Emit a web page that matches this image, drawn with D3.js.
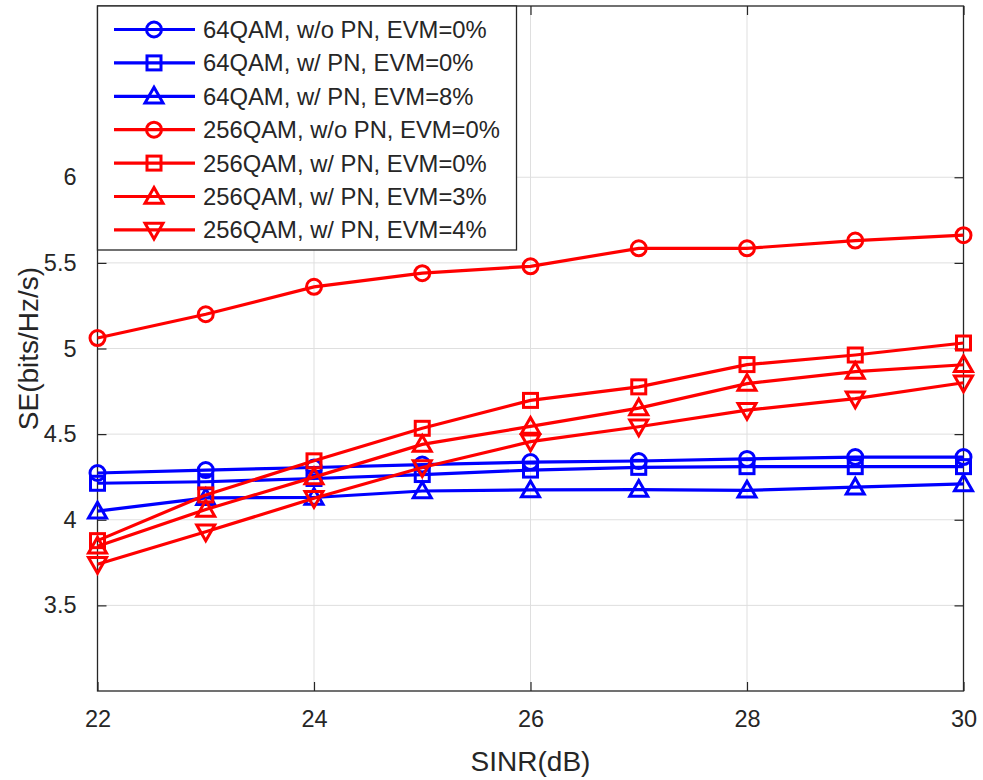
<!DOCTYPE html>
<html>
<head>
<meta charset="utf-8">
<script src="https://cdn.jsdelivr.net/npm/d3@7"></script>
<style>
  body { margin: 0; background: #fff; }
  svg text { font-family: "Liberation Sans", Arial, Helvetica, sans-serif; fill: #262626; }
</style>
</head>
<body>
<svg id="chart" width="983" height="780"></svg>
<script>
// ---- data ----
const sinr = [22, 23, 24, 25, 26, 27, 28, 29, 30];
const qam64_noPN_evm0 = [4.273, 4.290, 4.305, 4.322, 4.337, 4.343, 4.355, 4.366, 4.366];
const qam64_PN_evm0   = [4.213, 4.222, 4.241, 4.264, 4.290, 4.306, 4.310, 4.310, 4.310];
const qam64_PN_evm8   = [4.050, 4.128, 4.130, 4.168, 4.174, 4.176, 4.172, 4.190, 4.209];
const qam256_noPN_evm0 = [5.061, 5.200, 5.360, 5.440, 5.480, 5.585, 5.585, 5.630, 5.662];
const qam256_PN_evm0   = [3.878, 4.145, 4.344, 4.534, 4.697, 4.776, 4.906, 4.962, 5.032];
const qam256_PN_evm3   = [3.845, 4.060, 4.249, 4.440, 4.545, 4.652, 4.795, 4.865, 4.905];
const qam256_PN_evm4   = [3.740, 3.930, 4.125, 4.305, 4.456, 4.543, 4.640, 4.707, 4.800];
const seriesNames = [
  "64QAM, w/o PN, EVM=0%",
  "64QAM, w/ PN, EVM=0%",
  "64QAM, w/ PN, EVM=8%",
  "256QAM, w/o PN, EVM=0%",
  "256QAM, w/ PN, EVM=0%",
  "256QAM, w/ PN, EVM=3%",
  "256QAM, w/ PN, EVM=4%"
];
const seriesValues = [qam64_noPN_evm0, qam64_PN_evm0, qam64_PN_evm8, qam256_noPN_evm0, qam256_PN_evm0, qam256_PN_evm3, qam256_PN_evm4];
const seriesColors = ["#0000ff", "#0000ff", "#0000ff", "#ff0000", "#ff0000", "#ff0000", "#ff0000"];
const seriesMarkers = ["circle", "square", "triangleUp", "circle", "square", "triangleUp", "triangleDown"];
const xTicks = [22, 24, 26, 28, 30];
const yTicks = [3.5, 4, 4.5, 5, 5.5, 6];
const xLabel = "SINR(dB)";
const yLabel = "SE(bits/Hz/s)";

// ---- layout ----
const svg = d3.select("#chart");
const L = 97.5, R = 963.5, T = 6, B = 691;
const x = d3.scaleLinear().domain([22, 30]).range([L, R]);
const y = d3.scaleLinear().domain([3, 7]).range([B, T]);
const axisColor = "#262626";

// grid
const grid = svg.append("g");
grid.selectAll(".gx").data(xTicks).enter().append("line")
  .attr("x1", d => x(d)).attr("x2", d => x(d)).attr("y1", T).attr("y2", B)
  .attr("stroke", "#dfdfdf").attr("stroke-width", 1);
grid.selectAll(".gy").data(yTicks).enter().append("line")
  .attr("x1", L).attr("x2", R).attr("y1", d => y(d)).attr("y2", d => y(d))
  .attr("stroke", "#dfdfdf").attr("stroke-width", 1);

// axes (ticks inward)
const tickLen = 9;
function styleAxis(g) {
  g.select(".domain").remove();
  g.selectAll(".tick line").attr("stroke", axisColor).attr("stroke-width", 1.2);
  g.selectAll(".tick text").attr("font-size", "23.5px").attr("fill", axisColor)
    .style("font-family", '"Liberation Sans", Arial, sans-serif');
}
svg.append("g").attr("transform", `translate(0,${B})`)
  .call(d3.axisBottom(x).tickValues(xTicks).tickFormat(d3.format("d")).tickSizeInner(-tickLen).tickSizeOuter(0).tickPadding(19))
  .call(styleAxis);
svg.append("g").attr("transform", `translate(0,${T})`)
  .call(d3.axisTop(x).tickValues(xTicks).tickFormat("").tickSizeInner(-tickLen).tickSizeOuter(0))
  .call(styleAxis);
svg.append("g").attr("transform", `translate(${L},0)`)
  .call(d3.axisLeft(y).tickValues(yTicks).tickFormat(d => d).tickSizeInner(-tickLen).tickSizeOuter(0).tickPadding(21))
  .call(styleAxis);
svg.append("g").attr("transform", `translate(${R},0)`)
  .call(d3.axisRight(y).tickValues(yTicks).tickFormat("").tickSizeInner(-tickLen).tickSizeOuter(0))
  .call(styleAxis);

svg.append("rect").attr("x", L).attr("y", T).attr("width", R - L).attr("height", B - T)
  .attr("fill", "none").attr("stroke", axisColor).attr("stroke-width", 1.3);

// markers
function drawMarker(g, type, cx, cy, color) {
  if (type === "circle") {
    g.append("circle").attr("cx", cx).attr("cy", cy).attr("r", 7.5)
      .attr("fill", "none").attr("stroke", color).attr("stroke-width", 3);
  } else if (type === "square") {
    g.append("rect").attr("x", cx - 7).attr("y", cy - 7).attr("width", 14).attr("height", 14)
      .attr("fill", "none").attr("stroke", color).attr("stroke-width", 3);
  } else if (type === "triangleUp") {
    const h = 9;
    g.append("path").attr("d", `M${cx},${cy - h} L${cx + h},${cy + h * 0.75} L${cx - h},${cy + h * 0.75} Z`)
      .attr("fill", "none").attr("stroke", color).attr("stroke-width", 3).attr("stroke-linejoin", "miter");
  } else if (type === "triangleDown") {
    const h = 9;
    g.append("path").attr("d", `M${cx},${cy + h} L${cx + h},${cy - h * 0.75} L${cx - h},${cy - h * 0.75} Z`)
      .attr("fill", "none").attr("stroke", color).attr("stroke-width", 3).attr("stroke-linejoin", "miter");
  }
}

// series
const line = d3.line().x((d, i) => x(sinr[i])).y(d => y(d));
seriesValues.forEach((vals, k) => {
  const g = svg.append("g");
  g.append("path").datum(vals).attr("d", line)
    .attr("fill", "none").attr("stroke", seriesColors[k]).attr("stroke-width", 3.2);
  vals.forEach((v, i) => drawMarker(g, seriesMarkers[k], x(sinr[i]), y(v), seriesColors[k]));
});

// legend
const lg = svg.append("g");
lg.append("rect").attr("x", 97.5).attr("y", 6).attr("width", 419).attr("height", 244)
  .attr("fill", "#fff").attr("stroke", axisColor).attr("stroke-width", 1.3);
seriesNames.forEach((name, k) => {
  const cy = 29.5 + k * 33.4;
  lg.append("line").attr("x1", 114).attr("x2", 195).attr("y1", cy).attr("y2", cy)
    .attr("stroke", seriesColors[k]).attr("stroke-width", 3.2);
  drawMarker(lg, seriesMarkers[k], 154, cy, seriesColors[k]);
  lg.append("text").attr("x", 203).attr("y", cy).attr("dy", "0.36em")
    .attr("font-size", "23.8px").attr("fill", "#000").text(name);
});

// axis labels
svg.append("text").attr("x", (L + R) / 2).attr("y", 771).attr("text-anchor", "middle")
  .attr("font-size", "28px").attr("fill", axisColor).text(xLabel);
svg.append("text").attr("transform", `translate(38,${(T + B) / 2}) rotate(-90)`).attr("text-anchor", "middle")
  .attr("font-size", "28px").attr("fill", axisColor).text(yLabel);
</script>
</body>
</html>
